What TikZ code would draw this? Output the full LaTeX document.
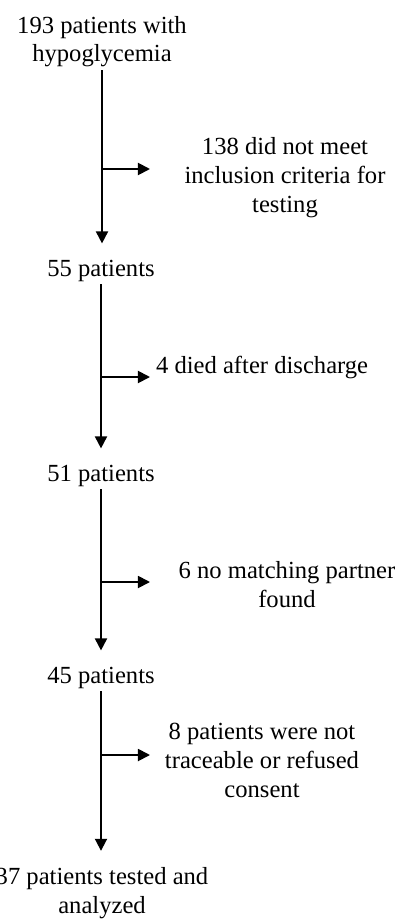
\documentclass[tikz,border=0pt]{standalone}
\usepackage{fontspec}
\setmainfont{Liberation Serif}
\usetikzlibrary{arrows.meta}
\tikzset{
    stage/.style={inner sep=0.07cm,align=center,anchor=base},
    excl/.style={inner sep=0.07cm,align=center,anchor=base},
    flow/.style={-{Triangle[length=0.3cm,width=0.3cm]},line width=1.3pt,black},
    trunk/.style={flow,shorten >=0.33cm}
}

\begin{document}
\begin{tikzpicture}[x=0.025cm,y=-0.025cm,font=\fontsize{17.5}{20.5}\selectfont]
    \useasboundingbox (0,0) rectangle (400,919);
    % Nodes (patients left at each stage)
    \node[stage] at (102,62) (n193) {193 patients with\\hypoglycemia};
    \node[stage] at (101,276) (n55) {55 patients};
    \node[stage] at (101,481) (n51) {51 patients};
    \node[stage] at (101,683) (n45) {45 patients};
    \node[stage] at (102,913) (n37) {37 patients tested and\\analyzed};
    % Nodes (excluded)
    \node[excl] at (285,212) (ex138) {138 did not meet\\inclusion criteria for\\testing};
    \node[excl,anchor=base west] at (153,373) (ex4) {4 died after discharge};
    \node[excl] at (287,607) (ex6) {6 no matching partner\\found};
    \node[excl] at (262,797) (ex8) {8 patients were not\\traceable or refused\\consent};
    % Branch points
    \coordinate (b1) at (102,169);  \coordinate (t1) at (150,169);
    \coordinate (b2) at (102,377);  \coordinate (t2) at (150,377);
    \coordinate (b3) at (102,582);  \coordinate (t3) at (150,582);
    \coordinate (b4) at (102,755);  \coordinate (t4) at (150,755);
    % Arrows
    \draw[trunk] (n193.south) -- (n193.south |- n55.north);
    \draw[trunk] (n55.south) -- (n55.south |- n51.north);
    \draw[trunk] (n51.south) -- (n51.south |- n45.north);
    \draw[trunk] (n45.south) -- (n45.south |- n37.north);
    \draw[flow] (b1) -- (t1);
    \draw[flow] (b2) -- (t2);
    \draw[flow] (b3) -- (t3);
    \draw[flow] (b4) -- (t4);
\end{tikzpicture}
\end{document}
